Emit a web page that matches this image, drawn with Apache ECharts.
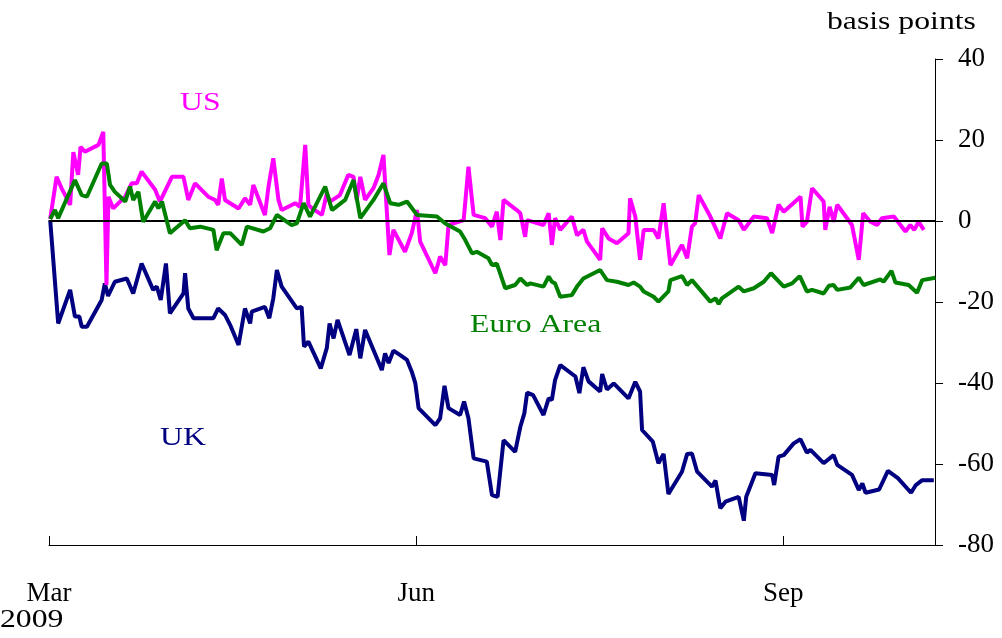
<!DOCTYPE html>
<html><head><meta charset="utf-8">
<script src="https://cdn.jsdelivr.net/npm/echarts@6/dist/echarts.min.js"></script>
<style>html,body{margin:0;padding:0;background:#fff}#c{width:1002px;height:638px}</style>
</head><body><div id="c"></div>
<script>
// Day offsets from 1 March 2009, values in basis points
var xTickDays = [0, 92, 184];
var xTickLabels = ['Mar', 'Jun', 'Sep'];
var yTicks = [-80, -60, -40, -20, 0, 20, 40];

var usData = [
[0.3,0.5],[1.9,10.9],[3.2,8],[5.3,4],[6.1,17],[7.3,11.4],[7.9,18.3],[9.0,17.1],[12.4,18.8],[13.6,22],
[14.4,-15.8],[14.9,6],[16.1,3.1],[17.8,4.8],[19.1,6],[20.7,9.3],[22.0,9.3],[23.2,12.2],[26.6,7.7],[27.8,4.8],
[30.8,10.9],[33.7,10.9],[34.9,5.2],[36.6,9.3],[39.9,6],[41.6,5.2],[42.4,4],[43.3,10.5],[44.1,5.2],[47.5,3.1],
[49.1,5.6],[50.4,4],[51.2,8.9],[54.1,1.5],[55.0,8.5],[56.2,15.5],[57.5,5.2],[58.3,2.7],[61.7,4.4],[62.9,3.5],
[64.2,18.8],[65.0,4],[65.9,3.1],[68.4,1.5],[69.6,6.8],[70.4,4.8],[72.9,6.4],[75.0,11.4],[76.3,10.9],[77.1,5.2],
[78.0,10.9],[79.2,5.2],[81.3,8.1],[82.6,11.4],[83.8,16.3],[85.3,-8.4],[86.3,-2.2],[89.2,-7.6],[90.9,-3.0],[92.2,2.7],
[93.0,-5.1],[96.8,-12.9],[98.0,-8.8],[99.3,-10.9],[100.1,-1],[103.9,0.2],[105.1,13.4],[106.4,1.5],[109.3,0.7],[111.0,-1.4],
[112.2,2.3],[113.1,-4.7],[113.9,5.2],[117.2,2.7],[118.1,1.9],[119.3,-3.9],[119.8,0.2],[123.9,-1],[125.2,1.9],[126.0,-5.9],
[126.8,0.7],[128.1,-2.2],[131.0,1.1],[132.3,-3.5],[133.9,-2.2],[134.8,-5.1],[136.0,-6.7],[138.1,-9.6],[138.6,-1.8],[140.2,-4.3],
[142.3,-5.5],[145.2,-3.0],[145.6,5.6],[146.9,1.1],[148.1,-9.6],[149.0,-2.2],[151.5,-2.2],[152.7,-4.3],[154.0,4.4],[155.7,-10.9],
[158.6,-5.9],[159.9,-9.2],[161.1,-1.4],[161.9,-0.6],[162.8,6.4],[165.7,1.1],[168.2,-4.3],[169.9,1.9],[172.8,0.2],[174.1,-2.2],
[176.6,1.1],[179.9,0.7],[181.2,-3.0],[182.8,4],[184.1,2.3],[188.3,6],[188.8,-1.4],[189.9,-0.2],[191.2,8.1],[194.1,4.8],
[194.5,-2.2],[195.6,3.5],[196.2,1.5],[196.6,-0.2],[197.5,4],[201.2,-1],[202.9,-9.6],[204.0,1.9],[205.8,-0.2],[207.5,-1],
[208.7,0.7],[211.7,1.1],[214.6,-2.6],[215.8,-1],[216.8,-2.2],[217.9,-0.2],[219.2,-2.2]
];

var euroData = [
[0.3,0.5],[1.5,2.7],[2.3,0.7],[6.5,10.1],[8.2,6.4],[9.5,6],[13.2,14.2],[14.5,14.2],[15.3,8.9],[16.5,7.2],
[19.1,4.8],[20.3,8.5],[21.1,5.2],[22.4,7.2],[23.6,-0.2],[26.6,4.8],[27.4,3.1],[28.3,4.8],[30.3,-3.0],[34.1,0.2],
[35.3,-1.8],[37.9,-1.4],[41.2,-2.2],[42.0,-7.2],[43.7,-3.0],[45.4,-3.0],[48.3,-5.9],[49.6,-1.4],[53.7,-2.6],[55.4,-1.8],
[57.1,1.5],[60.8,-1],[62.1,-0.6],[63.8,4.4],[65.4,1.1],[69.2,8.5],[70.9,2.7],[74.2,5.2],[76.3,10.1],[78.0,0.7],
[81.3,5.2],[83.8,9.3],[85.5,4.4],[87.6,4],[89.7,4.8],[92.2,1.5],[97.2,1.1],[99.3,-0.6],[103.0,-2.6],[104.3,-4.7],
[106.0,-8],[107.2,-7.6],[110.1,-9.2],[111.0,-10.9],[112.2,-10.5],[114.3,-16.6],[116.8,-15.8],[118.1,-14.2],[119.8,-15.8],[120.6,-15.4],
[123.9,-16.2],[125.2,-13.7],[126.0,-15],[126.8,-15.4],[128.1,-18.7],[131.0,-18.3],[132.3,-16.2],[133.9,-14.2],[138.1,-12.1],[139.8,-14.6],
[142.3,-15],[145.2,-15.8],[146.5,-15.2],[148.1,-16.2],[149.0,-17.4],[151.5,-18.7],[152.7,-19.9],[155.2,-17.4],[155.7,-14.6],[158.6,-13.6],
[159.9,-15.8],[161.1,-14.6],[165.7,-19.9],[167.0,-19.1],[167.8,-20.5],[168.6,-19.1],[172.8,-16.2],[174.1,-17.4],[176.6,-16.6],[179.1,-15],
[180.9,-12.9],[184.1,-16.2],[186.2,-15.4],[188.1,-13.6],[189.9,-17.4],[191.2,-17],[194.1,-17.9],[195.4,-16],[196.6,-15.8],[197.5,-17],
[200.8,-16.4],[202.9,-14],[204.1,-15.8],[208.3,-14.4],[209.1,-15],[211.1,-12.3],[212.1,-15.2],[215.4,-15.8],[217.5,-17.7],[218.8,-14.6],
[222.1,-14]
];

var ukData = [
[0.3,0.2],[2.3,-25.3],[5.3,-17],[6.5,-23.6],[7.6,-23.6],[8.2,-26.1],[9.5,-26.1],[13.2,-19.5],[14.0,-15.4],[14.8,-18.5],
[16.5,-15],[19.5,-14.2],[21.1,-17.9],[23.2,-10.5],[26.1,-17],[27.0,-16.2],[28.0,-19.5],[29.3,-10.5],[30.3,-22.8],[33.7,-17.9],
[34.1,-12.9],[34.9,-21.6],[36.2,-24],[41.2,-24],[42.4,-21.6],[44.1,-23.2],[45.4,-25.7],[47.5,-30.6],[49.1,-21.6],[50.4,-25.3],
[50.8,-22.4],[54.1,-21.2],[55.2,-24],[56.2,-19.1],[57.1,-12.1],[58.3,-16.2],[62.1,-21.6],[63.3,-21.2],[63.9,-31],[65.0,-29.8],
[68.1,-36.4],[69.6,-31.4],[70.3,-25.3],[71.3,-29],[72.3,-24.4],[75.3,-33.1],[77.0,-26.7],[78.0,-33.9],[79.2,-26.9],[83.4,-36.8],
[84.2,-32.7],[85.1,-35.1],[86.3,-32],[88.0,-33.1],[89.7,-34.3],[90.9,-37.2],[91.8,-40.1],[92.6,-46.2],[96.8,-50.4],[98.0,-48.7],
[99.1,-40.7],[100.1,-46.2],[103.0,-47.9],[104.0,-44.6],[105.1,-48.7],[106.4,-58.6],[109.7,-59.4],[111.0,-67.7],[112.4,-68.1],[113.9,-54.1],
[116.8,-57],[118.1,-50.8],[119.1,-47.5],[119.8,-42.4],[121.3,-43],[123.9,-47.9],[125.2,-43.8],[126.0,-44.2],[126.8,-39.3],[128.1,-35.6],
[131.9,-38.4],[132.9,-42.5],[133.9,-36.1],[135.2,-39.6],[138.1,-42.1],[138.6,-37.8],[139.8,-41.6],[141.5,-40.1],[145.2,-43.8],[146.9,-39.7],
[148.1,-42.1],[148.6,-51.6],[151.3,-54.5],[152.7,-59.8],[154.0,-57.5],[155.2,-67.4],[158.6,-61.9],[159.9,-57.5],[161.1,-57.4],[162.4,-61.9],
[166.1,-65.6],[167.0,-64.1],[168.2,-70.9],[169.5,-69.3],[172.8,-68.1],[174.1,-74],[174.7,-68.1],[177.0,-62.3],[181.2,-62.7],[181.7,-65.2],
[182.8,-58.2],[184.1,-57.8],[186.6,-54.9],[188.3,-53.9],[189.9,-57.2],[190.8,-56.5],[194.1,-59.8],[196.6,-57.8],[197.5,-60.2],[201.2,-62.7],
[202.9,-66.4],[203.8,-64.8],[204.6,-67.1],[208.0,-66.3],[210.2,-61.7],[212.7,-63.5],[216.0,-67.1],[217.2,-65.2],[218.8,-64],[221.7,-64]
];

var FONT = '"Liberation Serif", "Times New Roman", serif';
var chart = echarts.init(document.getElementById('c'), null, {renderer: 'canvas'});

function lineSeries(name, data, color, z) {
  return {
    name: name, type: 'line', data: data, showSymbol: false, symbol: 'none',
    lineStyle: {color: color, width: 4}, z: z, silent: true, animation: false
  };
}

var ukSeries = lineSeries('UK', ukData, '#000080', 3);
ukSeries.markLine = {
  silent: true, symbol: ['none', 'none'], label: {show: false},
  lineStyle: {color: '#000', width: 2, type: 'solid'},
  data: [{yAxis: 0}], animation: false
};

function label(text, x, y, color, align) {
  return {
    type: 'text', x: x, y: y, scaleX: 1.22, originX: 0, originY: 0,
    style: {text: text, font: '26px ' + FONT, fill: color, align: align, verticalAlign: 'middle'}
  };
}

chart.setOption({
  animation: false,
  backgroundColor: '#fff',
  grid: {left: 49, right: 67, top: 59, bottom: 93},
  xAxis: {
    type: 'value', min: 0, max: 222,
    axisLine: {show: true, onZero: false, lineStyle: {color: '#000', width: 1}},
    axisTick: {show: true, inside: true, length: 9, customValues: xTickDays, lineStyle: {color: '#000'}},
    axisLabel: {
      show: true, customValues: xTickDays, margin: 35,
      fontFamily: FONT, fontSize: 27, color: '#000',
      formatter: function (v) { var i = xTickDays.indexOf(v); return i >= 0 ? xTickLabels[i] : ''; }
    },
    splitLine: {show: false}
  },
  yAxis: {
    type: 'value', position: 'right', min: yTicks[0], max: yTicks[yTicks.length - 1], interval: 20,
    axisLine: {show: true, onZero: false, lineStyle: {color: '#000', width: 1}},
    axisTick: {show: true, inside: false, length: 8, lineStyle: {color: '#000'}},
    axisLabel: {margin: 23, fontFamily: FONT, fontSize: 27, color: '#000'},
    splitLine: {show: false}
  },
  series: [
    ukSeries,
    lineSeries('US', usData, '#FF00FF', 4),
    lineSeries('Euro Area', euroData, '#008000', 5)
  ],
  graphic: [
    label('basis points', 827, 22, '#000', 'left'),
    label('2009', 0, 620, '#000', 'left'),
    label('US', 180, 103, '#FF00FF', 'left'),
    label('Euro Area', 470, 325, '#008000', 'left'),
    label('UK', 160, 438, '#000080', 'left')
  ]
});
</script></body></html>
